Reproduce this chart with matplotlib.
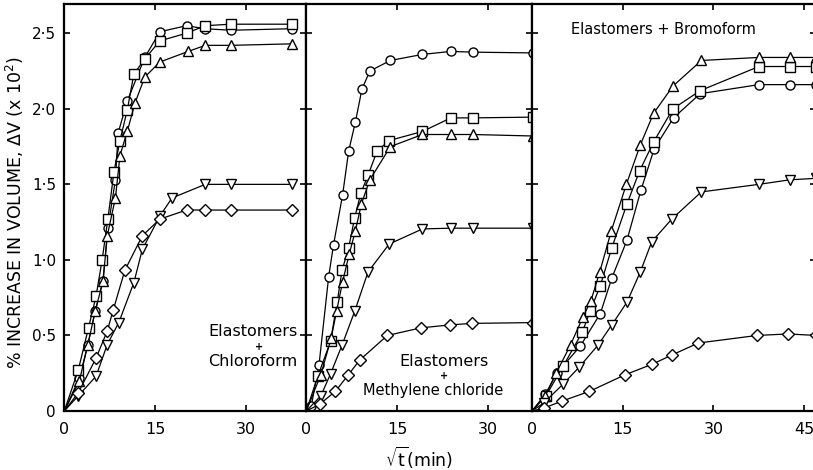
import matplotlib
matplotlib.use("Agg")
import matplotlib.pyplot as plt

# sqrt(t) values and % volume increase (x 10^2)
# panel 1: chloroform
chl_circle_x = [0, 2.5, 3.9, 5.1, 6.4, 7.2, 8.45, 8.9, 10.4, 13.3, 15.8, 20.2, 23.3, 27.5, 37.6]
chl_circle_y = [0, 0.22, 0.44, 0.66, 0.86, 1.21, 1.53, 1.84, 2.05, 2.34, 2.51, 2.55, 2.53, 2.52, 2.53]
chl_square_x = [0, 2.3, 4.0, 5.25, 6.25, 7.2, 8.2, 9.2, 10.4, 11.5, 13.3, 15.8, 20.2, 23.3, 27.5, 37.6]
chl_square_y = [0, 0.27, 0.55, 0.76, 1.0, 1.27, 1.58, 1.79, 1.99, 2.23, 2.33, 2.45, 2.50, 2.55, 2.56, 2.56]
chl_tri_x = [0, 2.5, 3.9, 5.1, 6.4, 7.1, 8.45, 9.2, 10.4, 11.7, 13.3, 15.8, 20.5, 23.3, 27.5, 37.6]
chl_tri_y = [0, 0.20, 0.44, 0.66, 0.86, 1.16, 1.41, 1.69, 1.85, 2.04, 2.21, 2.31, 2.38, 2.42, 2.42, 2.43]
chl_dtri_x = [0, 2.3, 5.25, 7.1, 9.0, 11.5, 12.9, 15.8, 17.8, 23.3, 27.5, 37.6]
chl_dtri_y = [0, 0.10, 0.23, 0.44, 0.585, 0.85, 1.07, 1.29, 1.41, 1.50, 1.50, 1.50]
chl_diam_x = [0, 2.3, 5.25, 7.1, 8.1, 10.0, 12.9, 15.8, 20.2, 23.3, 27.5, 37.6]
chl_diam_y = [0, 0.12, 0.35, 0.53, 0.67, 0.93, 1.16, 1.27, 1.33, 1.33, 1.33, 1.33]

# panel 2: methylene chloride
mc_circle_x = [0, 0.8, 2.1, 3.7, 4.5, 6.0, 7.0, 8.1, 9.2, 10.5, 13.9, 19.2, 23.9, 27.5, 37.5]
mc_circle_y = [0, 0.03, 0.305, 0.89, 1.10, 1.43, 1.72, 1.91, 2.13, 2.25, 2.32, 2.36, 2.38, 2.375, 2.37]
mc_square_x = [0, 1.9, 4.0, 5.1, 5.9, 7.0, 8.0, 9.0, 10.2, 11.7, 13.7, 19.2, 23.9, 27.5, 37.5]
mc_square_y = [0, 0.23, 0.46, 0.72, 0.93, 1.08, 1.28, 1.44, 1.56, 1.72, 1.79, 1.85, 1.94, 1.94, 1.945]
mc_tri_x = [0, 2.4, 4.1, 5.0, 6.0, 7.1, 8.1, 9.1, 10.5, 13.9, 19.2, 23.9, 27.5, 37.5]
mc_tri_y = [0, 0.24, 0.48, 0.66, 0.855, 1.04, 1.19, 1.37, 1.53, 1.75, 1.83, 1.83, 1.83, 1.82]
mc_dtri_x = [0, 2.4, 4.0, 5.9, 8.0, 10.2, 13.7, 19.2, 23.9, 27.5, 37.5]
mc_dtri_y = [0, 0.10, 0.245, 0.435, 0.66, 0.92, 1.105, 1.205, 1.21, 1.21, 1.21]
mc_diam_x = [0, 2.2, 4.8, 6.9, 8.8, 13.4, 18.9, 23.8, 27.4, 37.5]
mc_diam_y = [0, 0.044, 0.13, 0.237, 0.336, 0.50, 0.55, 0.57, 0.58, 0.585]

# panel 3: bromoform
br_tri_x = [0, 2.2, 4.0, 6.4, 8.4, 9.75, 11.2, 13.1, 15.6, 17.9, 20.1, 23.3, 28.0, 37.5, 42.6, 47]
br_tri_y = [0, 0.10, 0.25, 0.44, 0.62, 0.73, 0.92, 1.19, 1.50, 1.76, 1.97, 2.15, 2.32, 2.34, 2.34, 2.34]
br_square_x = [0, 2.3, 5.2, 8.3, 9.6, 11.3, 13.2, 15.7, 17.8, 20.1, 23.3, 27.8, 37.5, 42.6, 47]
br_square_y = [0, 0.10, 0.30, 0.52, 0.66, 0.83, 1.08, 1.37, 1.59, 1.78, 2.00, 2.12, 2.28, 2.28, 2.28]
br_circle_x = [0, 2.2, 4.1, 8.0, 11.3, 13.2, 15.7, 18.0, 20.2, 23.4, 27.8, 37.5, 42.6, 47]
br_circle_y = [0, 0.11, 0.25, 0.43, 0.645, 0.88, 1.13, 1.46, 1.735, 1.94, 2.10, 2.16, 2.16, 2.16]
br_dtri_x = [0, 2.0, 5.2, 7.8, 10.9, 13.2, 15.7, 17.9, 19.8, 23.1, 28.0, 37.5, 42.6, 47]
br_dtri_y = [0, 0.055, 0.18, 0.29, 0.435, 0.57, 0.72, 0.92, 1.12, 1.27, 1.45, 1.50, 1.53, 1.54]
br_diam_x = [0, 2.0, 5.0, 9.5, 15.4, 19.9, 23.1, 27.5, 37.2, 42.3, 47]
br_diam_y = [0, 0.02, 0.066, 0.13, 0.24, 0.31, 0.37, 0.45, 0.50, 0.51, 0.50]

panels = [
    [(chl_circle_x, chl_circle_y, 'o'), (chl_square_x, chl_square_y, 's'),
     (chl_tri_x, chl_tri_y, '^'), (chl_dtri_x, chl_dtri_y, 'v'), (chl_diam_x, chl_diam_y, 'D')],
    [(mc_circle_x, mc_circle_y, 'o'), (mc_square_x, mc_square_y, 's'),
     (mc_tri_x, mc_tri_y, '^'), (mc_dtri_x, mc_dtri_y, 'v'), (mc_diam_x, mc_diam_y, 'D')],
    [(br_circle_x, br_circle_y, 'o'), (br_square_x, br_square_y, 's'),
     (br_tri_x, br_tri_y, '^'), (br_dtri_x, br_dtri_y, 'v'), (br_diam_x, br_diam_y, 'D')],
]
xmax = [40.0, 37.3, 47.0]
xticks = [[0, 15, 30], [0, 15, 30], [0, 15, 30, 45]]
yticks = [0, 0.5, 1.0, 1.5, 2.0, 2.5]
ytick_labels = ['0', '0·5', '1·0', '1·5', '2·0', '2·5']

W, H = 813, 470
fig = plt.figure(figsize=(W / 100, H / 100), dpi=100)
ppu = 6.05   # pixels per sqrt(min)
left = 64.3
bottom, top = 411, 3.5
axes = []
for i in range(3):
    w = xmax[i] * ppu
    ax = fig.add_axes([left / W, (H - bottom) / H, w / W, (bottom - top) / H])
    left += w
    axes.append(ax)
    for x, y, m in panels[i]:
        ms = 6.5 if m in ('o', 's') else (7.5 if m in ('^', 'v') else 6)
        ax.plot(x, y, '-', color='black', lw=0.9, marker=m, markevery=slice(1, None),
                ms=ms, mfc='white', mec='black', mew=1.0)
    ax.set_xlim(0, xmax[i])
    ax.set_ylim(0, 2.697)
    ax.set_xticks(xticks[i])
    ax.set_yticks(yticks)
    ax.tick_params(direction='in', length=4, width=1.2, top=True, right=True,
                   labelsize=11.5)
    ax.tick_params(axis='x', pad=8)
    ax.tick_params(axis='y', pad=6, labelsize=11)
    if i == 0:
        ax.set_yticklabels(ytick_labels)
    else:
        ax.set_yticklabels([])
    for s in ax.spines.values():
        s.set_linewidth(1.6)

axes[0].text(38.6, (411 - 332) / 151, 'Elastomers', ha='right', va='center', fontsize=11.5)
axes[0].text(32.2, (411 - 347) / 151, '+', ha='center', va='center', fontsize=7, fontweight='bold')
axes[0].text(38.6, (411 - 362) / 151, 'Chloroform', ha='right', va='center', fontsize=11.5)
axes[1].text(22.7, (411 - 362) / 151, 'Elastomers', ha='center', va='center', fontsize=11.5)
axes[1].text(22.7, (411 - 376) / 151, '+', ha='center', va='center', fontsize=7, fontweight='bold')
axes[1].text(21.0, (411 - 391) / 151, 'Methylene chloride', ha='center', va='center', fontsize=10.5)
axes[2].text(21.8, (411 - 30) / 151, 'Elastomers + Bromoform', ha='center', va='center', fontsize=10.5)

fig.text(15 / W, 1 - 212 / H, r'% INCREASE IN VOLUME, $\Delta$V (x 10$^{2}$)',
         rotation=90, ha='center', va='center', fontsize=12.5)
fig.text(419 / W, 1 - 458 / H, r'$\sqrt{\mathrm{t}}$(min)', ha='center', va='center', fontsize=12.5)

fig.savefig('out.png', dpi=100)
